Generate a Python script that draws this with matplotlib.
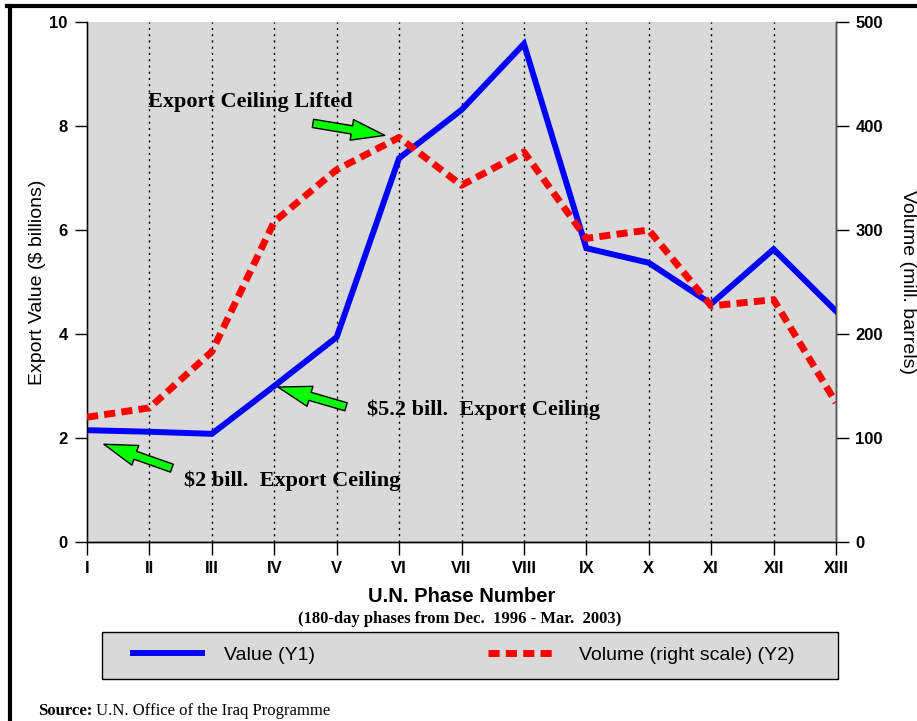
import matplotlib.pyplot as plt
from matplotlib.lines import Line2D
from matplotlib.patches import FancyArrowPatch, Rectangle

phases = ["I", "II", "III", "IV", "V", "VI", "VII", "VIII", "IX", "X", "XI", "XII", "XIII"]
value = [2.15, 2.12, 2.08, 3.0, 3.94, 7.38, 8.31, 9.58, 5.65, 5.37, 4.58, 5.63, 4.44]
volume = [120, 129, 183, 308, 358, 389, 343, 375, 292, 300, 227, 233, 134]

serif = "Liberation Serif"
sans = "Liberation Sans"

fig = plt.figure(figsize=(9.17, 7.21), dpi=100)
ax = fig.add_axes([87 / 917, 179 / 721, 749 / 917, 520 / 721])
ax2 = ax.twinx()
ax.set_facecolor("#d9d9d9")

x = list(range(len(phases)))
l1, = ax.plot(x, value, color="#0000ff", lw=4.3, solid_joinstyle="miter", zorder=3)
l2, = ax2.plot(x, volume, color="#ff0000", lw=5, dashes=(1.6, 0.9), zorder=3)

ax.set_xlim(0, len(phases) - 1)
ax.set_ylim(0, 10)
ax2.set_ylim(0, 500)
ax.set_xticks(x)
ax.set_xticklabels(phases, fontfamily=sans, fontweight="bold", fontsize=12)
ax.set_yticks(range(0, 11, 2))
ax2.set_yticks(range(0, 501, 100))
for t in ax.get_yticklabels() + ax2.get_yticklabels():
    t.set_fontfamily(sans)
    t.set_fontweight("bold")
    t.set_fontsize(12)
ax.tick_params(axis="both", length=9, width=1, pad=5)
ax2.tick_params(axis="y", length=9, width=1, pad=5)

# dotted verticals at each phase
for i in x[1:-1]:
    ax.axvline(i, color="black", lw=1, ls=(0, (1.5, 3)), zorder=1)

for a in (ax, ax2):
    a.spines["top"].set_visible(False)
    for s in ("left", "right", "bottom"):
        a.spines[s].set_linewidth(1)
ax.spines["left"].set_color("#555555")
ax2.spines["right"].set_color("#555555")

ax.set_ylabel("Export Value ($ billions)", fontfamily=sans, fontsize=14, labelpad=2)
ax2.set_ylabel("Volume (mill. barrels)", fontfamily=sans, fontsize=14, rotation=270, labelpad=24)

# annotations
ax.text(0.98, 8.46, "Export Ceiling Lifted", fontfamily=serif, fontweight="bold",
        fontsize=16, va="center", ha="left", zorder=5)
ax.text(4.49, 2.54, "$5.2 bill.  Export Ceiling", fontfamily=serif, fontweight="bold",
        fontsize=16, va="center", ha="left", zorder=5)
ax.text(1.55, 1.17, "$2 bill.  Export Ceiling", fontfamily=serif, fontweight="bold",
        fontsize=16, va="center", ha="left", zorder=5)

arrows = [((3.62, 8.05), (4.77, 7.82)), ((4.15, 2.6), (3.06, 2.98)), ((1.36, 1.42), (0.27, 1.88))]
for tail, head in arrows:
    ax.add_patch(FancyArrowPatch(tail, head, arrowstyle="simple,head_width=1.5,head_length=2.4,tail_width=0.6",
                                 mutation_scale=10, facecolor="#00ff00", edgecolor="black",
                                 lw=1, shrinkA=0, shrinkB=0, zorder=6))

fig.text(462 / 917, 1 - 597 / 721, "U.N. Phase Number", fontfamily=sans, fontweight="bold",
         fontsize=14.5, ha="center", va="center")
fig.text(460 / 917, 1 - 619 / 721, "(180-day phases from Dec.  1996 - Mar.  2003)",
         fontfamily=serif, fontweight="bold", fontsize=12, ha="center", va="center")

# legend box
fig.add_artist(Rectangle((102 / 917, 1 - 679 / 721), 736 / 917, 47 / 721, facecolor="#d9d9d9",
                         edgecolor="black", lw=1, transform=fig.transFigure, zorder=0))
fig.legend([l1, l2], ["Value (Y1)", "Volume (right scale) (Y2)"],
           loc="center left", bbox_to_anchor=(133 / 917, 1 - 655 / 721),
           ncol=2, prop={"family": sans, "size": 14}, frameon=False,
           handlelength=3.55, handletextpad=1.13, columnspacing=8.9,
           borderaxespad=0, borderpad=0)

src = fig.text(38 / 917, 1 - 711 / 721, "Source:", fontfamily=serif, fontweight="bold",
               fontsize=12, ha="left", va="center")
ax.annotate(" U.N. Office of the Iraq Programme", xy=(1, 0), xycoords=src, va="bottom",
            ha="left", fontfamily=serif, fontsize=12, annotation_clip=False)

# page frame lines
fig.add_artist(Line2D([7 / 917, 1], [1 - 6 / 721, 1 - 6 / 721], color="black", lw=3,
                      transform=fig.transFigure))
fig.add_artist(Line2D([10 / 917, 10 / 917], [0, 1 - 6 / 721], color="black", lw=3,
                      transform=fig.transFigure))

fig.savefig("out.png", dpi=100)
